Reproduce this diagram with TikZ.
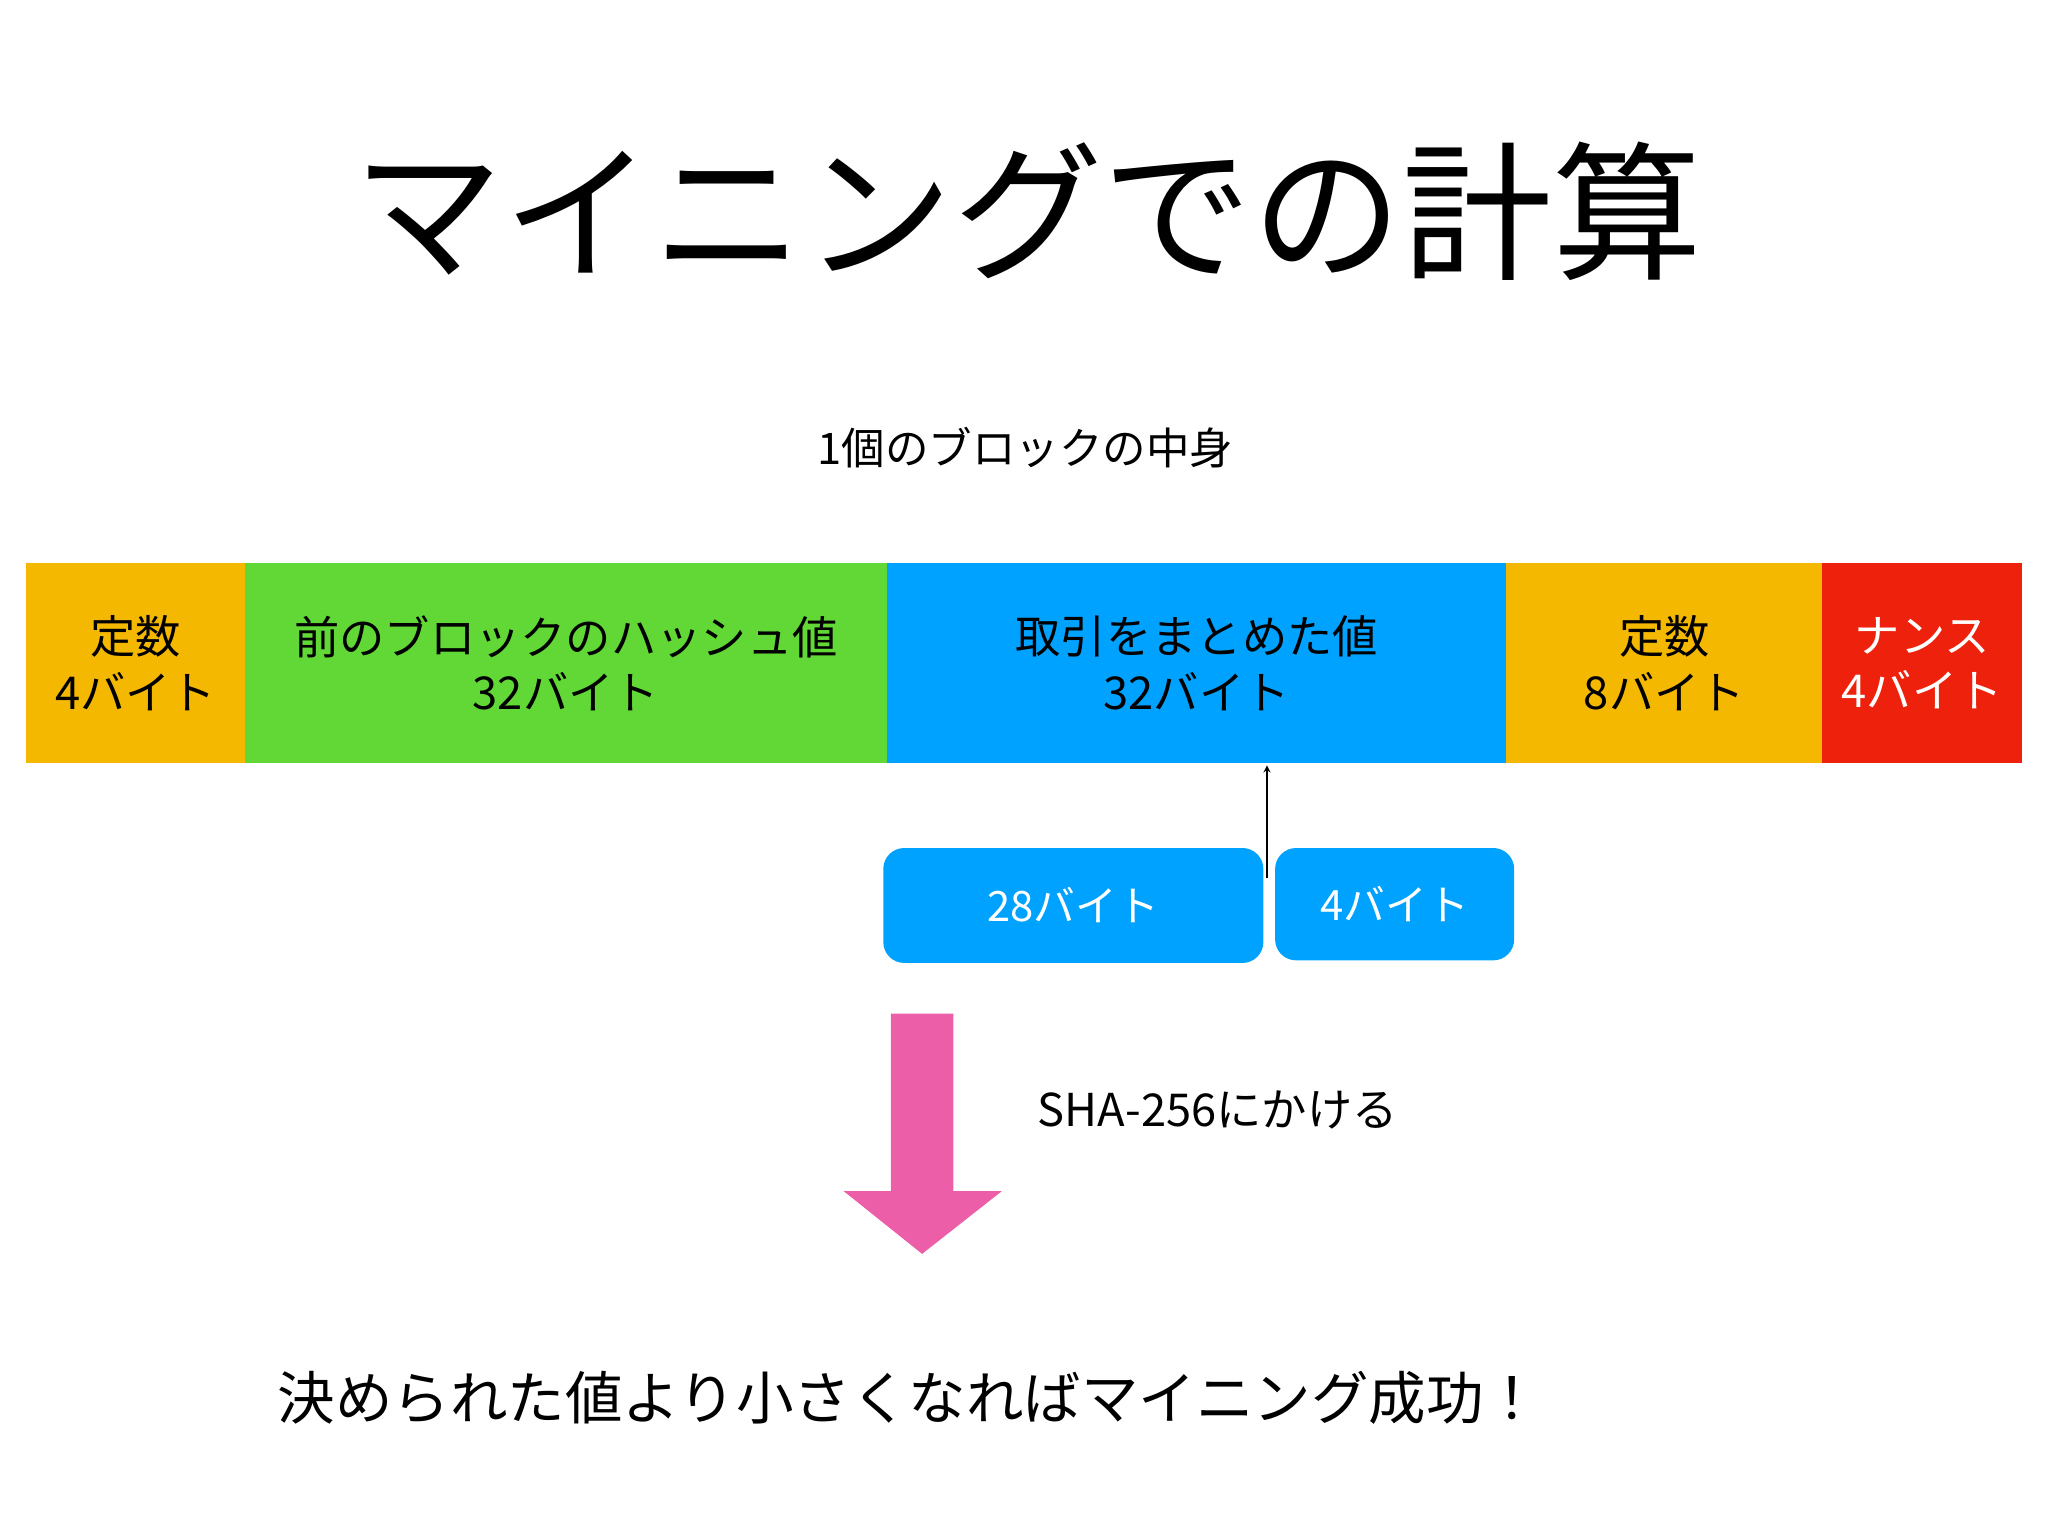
\documentclass[tikz,border=0pt]{standalone}
\usepackage{fontspec}
\setmainfont{Noto Sans CJK JP}
\begin{document}
\begin{tikzpicture}[x=0.75pt,y=-0.75pt,
  seg/.style={draw=none,minimum height=153*0.75pt,inner sep=0pt,align=center,anchor=north west,font=\fontsize{26}{32}\selectfont},
  small/.style={fill=cyanb,draw=none,rounded corners=12pt,text=white,inner sep=0pt,anchor=north west,font=\fontsize{24}{28}\selectfont}]
\definecolor{orangeb}{HTML}{F5B800}
\definecolor{greenb}{HTML}{62D836}
\definecolor{cyanb}{HTML}{00A2FF}
\definecolor{redb}{HTML}{EE220C}
\definecolor{pinkb}{HTML}{EC5FA8}
\useasboundingbox (0,0) rectangle (1568,1176);
\node[font=\fontsize{86}{90}\selectfont] (title) at (787,162) {マイニングでの計算};
\node[font=\fontsize{25}{30}\selectfont] (sub) at (785,343) {1個のブロックの中身};
\node[seg,fill=orangeb,minimum width=167*0.75pt] (s1) at (20,431) {定数\\4バイト};
\node[seg,fill=greenb,minimum width=492*0.75pt] (s2) at (187,431) {前のブロックのハッシュ値\\32バイト};
\node[seg,fill=cyanb,minimum width=474*0.75pt] (s3) at (679,431) {取引をまとめた値\\32バイト};
\node[seg,fill=orangeb,minimum width=242*0.75pt] (s4) at (1153,431) {定数\\8バイト};
\node[seg,fill=redb,text=white,minimum width=153*0.75pt] (s5) at (1395,431) {ナンス\\4バイト};
\node[small,minimum width=291*0.75pt,minimum height=88*0.75pt] (b1) at (676,649) {28バイト};
\node[small,minimum width=183*0.75pt,minimum height=86*0.75pt] (b2) at (976,649) {4バイト};
\coordinate (a0) at (970,672);
\coordinate (a1) at (970,586);
\draw[-stealth,thick] (a0) -- (a1);
\fill[pinkb] (682,776) -- (730,776) -- (730,912) -- (767,912) -- (706,960) -- (646,912) -- (682,912) -- cycle;
\node[anchor=west,font=\fontsize{26}{30}\selectfont] (sha) at (790,850) {SHA-256にかける};
\node[anchor=west,font=\fontsize{33}{38}\selectfont] (res) at (208,1070) {決められた値より小さくなればマイニング成功！};
\end{tikzpicture}
\end{document}
